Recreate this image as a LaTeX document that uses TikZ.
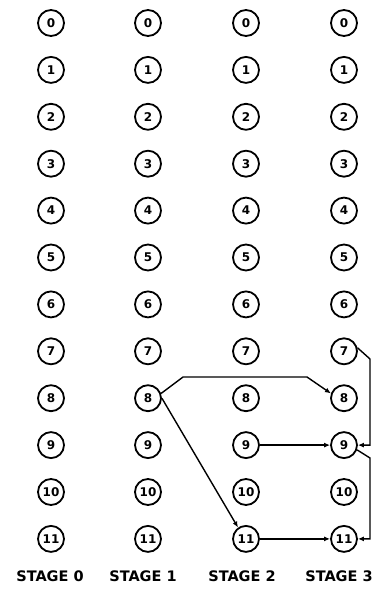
\documentclass[tikz,border=0pt]{standalone}
\usepackage{fontspec}
\setmainfont{DejaVu Sans}
\usetikzlibrary{arrows.meta}
\begin{document}
\begin{tikzpicture}[x=1pt,y=-1pt,
  st/.style={draw,circle,line width=1.8pt,minimum size=26pt,inner sep=0pt,font=\fontsize{12}{12}\selectfont\bfseries},
  lbl/.style={font=\fontsize{14.5}{15}\selectfont\bfseries,inner sep=0pt},
  arr/.style={line width=1.4pt,-{Latex[length=6pt,width=5pt]}}]
\useasboundingbox (0,0) rectangle (382,590);
\foreach \c/\x in {0/51,1/148,2/246,3/344}{
  \foreach \r in {0,...,11}{
    \node[st] (s\c-\r) at (\x,{23+46.9*\r}) {\r};
  }
}
\node[lbl] (l0) at (50,576) {STAGE 0};
\node[lbl] (l1) at (143,576) {STAGE 1};
\node[lbl] (l2) at (242,576) {STAGE 2};
\node[lbl] (l3) at (339,576) {STAGE 3};
\coordinate (a1) at (183,377);
\coordinate (a2) at (307,377);
\coordinate (c1) at (370,359);
\coordinate (d1) at (370,458);
\draw[arr] (s1-8.20) -- (a1) -- (a2) -- (s3-8.160);
\draw[arr] (s1-8.east) -- (s2-11.125);
\draw[arr] (s2-9) -- (s3-9);
\draw[arr] (s2-11) -- (s3-11);
\draw[arr] (s3-7.15) -- (c1) |- (s3-9.east);
\draw[arr] (s3-9.-20) -- (d1) |- (s3-11.east);
\end{tikzpicture}
\end{document}
